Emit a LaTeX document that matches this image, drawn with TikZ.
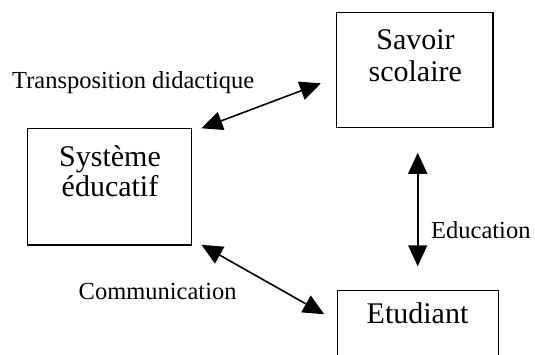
\documentclass[tikz,border=0pt]{standalone}
\usepackage{fontspec}
\setmainfont{Liberation Serif}
\usetikzlibrary{arrows.meta}
\tikzset{
  box/.style={draw, line width=1.5pt, inner sep=0pt},
  boxtext/.style={font=\fontsize{30}{32}\selectfont, inner sep=0pt, anchor=base},
  linklabel/.style={font=\fontsize{24.5}{26}\selectfont, inner sep=0pt, anchor=base west},
  link/.style={line width=1.6pt, {Triangle[length=21pt,width=19pt]}-{Triangle[length=21pt,width=19pt]}}
}
\begin{document}
\begin{tikzpicture}[x=1pt, y=-1pt]
  \useasboundingbox (0,0) rectangle (535,354);
  \clip (0,0) rectangle (535,354);

  % boxes
  \node[box, minimum width=156.3pt, minimum height=115pt] (sav) at (414.8,70.2) {};
  \node[box, minimum width=164.4pt, minimum height=116.7pt] (sys) at (109.5,186.7) {};
  \node[box, minimum width=161pt, minimum height=80pt] (etu) at (417.8,330.7) {};

  % box texts
  \node[boxtext] (savA) at (415.5,49.3) {Savoir};
  \node[boxtext] (savB) at (415.3,81.7) {scolaire};
  \node[boxtext] (sysA) at (110,166.7) {Système};
  \node[boxtext] (sysB) at (110,196.5) {éducatif};
  \node[boxtext] (etuA) at (417.5,323.3) {Etudiant};

  % link labels
  \node[linklabel] (lt) at (12,88.3) {Transposition didactique};
  \node[linklabel] (le) at (431,238.3) {Education};
  \node[linklabel] (lc) at (78.5,299) {Communication};

  % links
  \draw[link] ([shift={(9,0.7)}]sys.north east) -- ([shift={(-15,13.1)}]sav.west);
  \draw[link] ([shift={(9,-1)}]sys.south east) -- ([shift={(-12.3,24.3)}]etu.north west);
  \draw[link] ([shift={(2.9,24.3)}]sav.south) -- ([shift={(-0.1,-23.7)}]etu.north);
\end{tikzpicture}
\end{document}
